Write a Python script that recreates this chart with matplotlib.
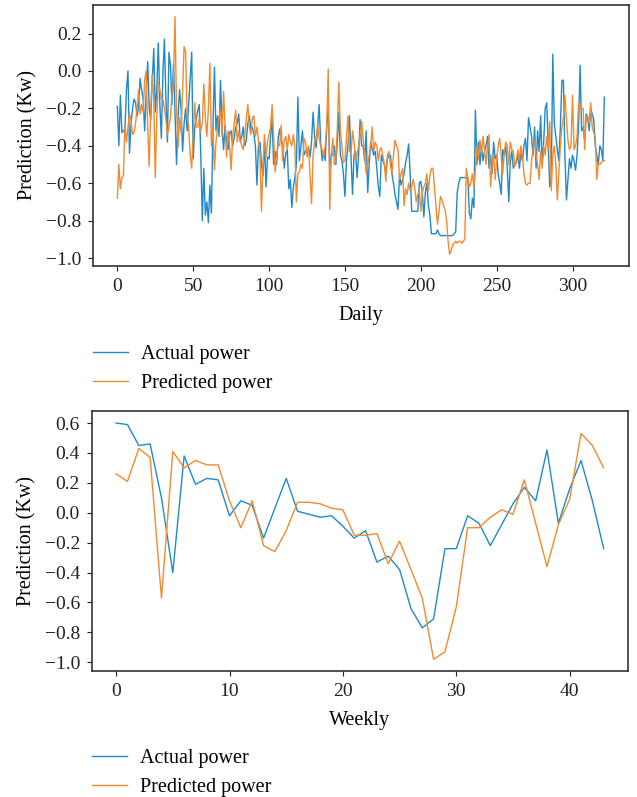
import numpy as np
import matplotlib
matplotlib.use('Agg')
import matplotlib.pyplot as plt

plt.rcParams['font.family'] = ['Liberation Serif', 'DejaVu Serif']
plt.rcParams['font.size'] = 14.5

# daily series
daily_actual = [
    -0.19, -0.40, -0.13, -0.33, -0.32, -0.31, -0.10, 0.00, -0.44, -0.29,
    -0.20, -0.15, -0.17, -0.24, -0.19, -0.04, -0.10, -0.15, -0.32, -0.12,
    0.05, -0.20, -0.26, -0.05, 0.12, -0.22, -0.10, 0.15, -0.18, -0.36,
    -0.02, 0.17, -0.15, -0.38, 0.10, 0.03, -0.18, 0.04, -0.22, -0.50,
    -0.25, -0.10, -0.20, -0.43, -0.28, -0.20, -0.32, -0.18, -0.05, 0.10,
    -0.47, -0.30, -0.26, -0.21, -0.18, -0.45, -0.80, -0.52, -0.77, -0.70,
    -0.81, -0.61, -0.76, -0.30, 0.02, -0.32, -0.24, -0.35, -0.05, -0.30,
    -0.42, -0.29, -0.38, -0.42, -0.33, -0.32, -0.40, -0.36, -0.30, -0.28,
    -0.23, -0.38, -0.35, -0.30, -0.40, -0.37, -0.28, -0.24, -0.31, -0.30,
    -0.34, -0.40, -0.61, -0.40, -0.38, -0.50, -0.56, -0.38, -0.62, -0.46,
    -0.47, -0.35, -0.25, -0.50, -0.43, -0.50, -0.36, -0.31, -0.37, -0.40,
    -0.52, -0.44, -0.42, -0.63, -0.58, -0.73, -0.62, -0.57, -0.50, -0.14,
    -0.48, -0.40, -0.32, -0.45, -0.43, -0.42, -0.41, -0.46, -0.38, -0.22,
    -0.35, -0.41, -0.30, -0.18, -0.38, -0.48, -0.43, -0.48, -0.30, -0.19,
    -0.52, -0.45, -0.45, -0.40, -0.50, -0.38, -0.22, -0.45, -0.48, -0.55,
    -0.67, -0.48, -0.40, -0.24, -0.46, -0.66, -0.45, -0.43, -0.57, -0.45,
    -0.26, -0.40, -0.40, -0.48, -0.32, -0.65, -0.50, -0.38, -0.42, -0.45,
    -0.43, -0.52, -0.62, -0.67, -0.45, -0.48, -0.50, -0.54, -0.47, -0.45,
    -0.45, -0.55, -0.60, -0.66, -0.70, -0.74, -0.55, -0.61, -0.58, -0.55,
    -0.49, -0.45, -0.39, -0.55, -0.75, -0.75, -0.75, -0.75, -0.75, -0.60,
    -0.59, -0.65, -0.78, -0.65, -0.60, -0.72, -0.77, -0.87, -0.87, -0.87,
    -0.87, -0.85, -0.87, -0.88, -0.88, -0.88, -0.88, -0.88, -0.88, -0.88,
    -0.88, -0.88, -0.87, -0.86, -0.65, -0.60, -0.57, -0.57, -0.57, -0.57,
    -0.57, -0.57, -0.76, -0.79, -0.68, -0.73, -0.21, -0.50, -0.38, -0.50,
    -0.40, -0.48, -0.43, -0.40, -0.35, -0.52, -0.45, -0.55, -0.38, -0.47,
    -0.45, -0.55, -0.60, -0.66, -0.42, -0.45, -0.40, -0.52, -0.70, -0.48,
    -0.43, -0.52, -0.50, -0.49, -0.45, -0.52, -0.44, -0.48, -0.40, -0.36,
    -0.48, -0.25, -0.30, -0.35, -0.45, -0.30, -0.52, -0.32, -0.43, -0.24,
    -0.50, -0.38, -0.20, -0.17, -0.40, -0.62, -0.58, 0.09, -0.28, -0.35,
    -0.42, -0.48, -0.30, -0.05, -0.05, -0.45, -0.69, -0.58, -0.47, -0.52,
    -0.45, -0.48, -0.53, -0.45, -0.30, 0.03, -0.32, -0.30, -0.37, -0.23,
    -0.25, -0.32, -0.20, -0.23, -0.26, -0.40, -0.45, -0.50, -0.40, -0.42,
    -0.48, -0.14,
]
daily_pred = [
    -0.68, -0.50, -0.63, -0.57, -0.56, -0.29, -0.38, -0.30, -0.23, -0.26,
    -0.34, -0.33, -0.28, -0.20, -0.10, -0.23, -0.18, -0.22, -0.05, 0.00,
    -0.30, -0.51, -0.20, -0.02, -0.15, -0.57, -0.25, -0.06, -0.10, -0.15,
    -0.15, -0.20, -0.26, -0.34, -0.30, -0.25, -0.12, -0.05, 0.29, -0.20,
    -0.41, -0.25, -0.33, -0.10, 0.13, 0.10, -0.24, -0.30, -0.45, -0.52,
    -0.35, -0.17, -0.30, -0.30, -0.25, -0.32, -0.28, -0.07, -0.25, -0.35,
    -0.20, 0.04, -0.40, -0.30, -0.53, -0.38, -0.30, -0.25, -0.21, -0.35,
    -0.11, -0.30, -0.46, -0.32, -0.40, -0.53, -0.35, -0.28, -0.21, -0.38,
    -0.32, -0.37, -0.40, -0.42, -0.35, -0.25, -0.18, -0.30, -0.34, -0.25,
    -0.24, -0.35, -0.30, -0.37, -0.45, -0.75, -0.50, -0.34, -0.46, -0.38,
    -0.34, -0.30, -0.18, -0.35, -0.54, -0.45, -0.39, -0.40, -0.29, -0.48,
    -0.37, -0.35, -0.42, -0.34, -0.38, -0.40, -0.34, -0.40, -0.70, -0.55,
    -0.54, -0.50, -0.52, -0.36, -0.38, -0.46, -0.40, -0.55, -0.71, -0.45,
    -0.38, -0.37, -0.29, -0.36, -0.40, -0.42, -0.46, -0.40, -0.30, 0.01,
    -0.74, -0.45, -0.36, -0.50, -0.48, -0.30, -0.06, -0.32, -0.40, -0.49,
    -0.48, -0.36, -0.24, -0.43, -0.44, -0.32, -0.38, -0.48, -0.45, -0.40,
    -0.34, -0.27, -0.36, -0.45, -0.55, -0.50, -0.45, -0.40, -0.30, -0.43,
    -0.38, -0.40, -0.48, -0.42, -0.41, -0.45, -0.50, -0.59, -0.45, -0.43,
    -0.50, -0.55, -0.45, -0.37, -0.40, -0.42, -0.58, -0.55, -0.52, -0.72,
    -0.63, -0.66, -0.60, -0.64, -0.62, -0.58, -0.62, -0.70, -0.66, -0.64,
    -0.75, -0.65, -0.62, -0.60, -0.55, -0.64, -0.56, -0.52, -0.52, -0.62,
    -0.72, -0.82, -0.75, -0.67, -0.69, -0.72, -0.74, -0.80, -0.91, -0.98,
    -0.96, -0.93, -0.92, -0.91, -0.92, -0.91, -0.91, -0.92, -0.91, -0.90,
    -0.52, -0.57, -0.62, -0.60, -0.55, -0.62, -0.53, -0.40, -0.47, -0.37,
    -0.44, -0.35, -0.42, -0.50, -0.40, -0.34, -0.62, -0.50, -0.45, -0.58,
    -0.47, -0.40, -0.36, -0.45, -0.55, -0.44, -0.38, -0.40, -0.50, -0.38,
    -0.42, -0.43, -0.51, -0.48, -0.42, -0.48, -0.40, -0.45, -0.55, -0.60,
    -0.61, -0.60, -0.60, -0.48, -0.42, -0.37, -0.45, -0.50, -0.58, -0.43,
    -0.52, -0.40, -0.45, -0.35, -0.42, -0.27, -0.64, -0.45, -0.40, -0.50,
    -0.69, -0.55, -0.40, -0.30, -0.25, -0.13, -0.26, -0.37, -0.42, -0.40,
    -0.13, -0.42, -0.40, -0.35, -0.17, -0.18, -0.20, -0.20, -0.42, -0.25,
    -0.24, -0.28, -0.17, -0.30, -0.33, -0.35, -0.58, -0.50, -0.50, -0.49,
    -0.48, -0.48,
]

# weekly series
weekly_actual = [
    0.60, 0.59, 0.45, 0.46, 0.10, -0.40, 0.38, 0.19, 0.23, 0.22,
    -0.02, 0.08, 0.05, -0.17, 0.03, 0.23, 0.01, -0.01, -0.03, -0.02,
    -0.09, -0.17, -0.12, -0.33, -0.29, -0.38, -0.64, -0.77, -0.71, -0.24,
    -0.24, -0.02, -0.07, -0.22, -0.08, 0.06, 0.17, 0.08, 0.42, -0.07,
    0.16, 0.35, 0.08, -0.24,
]
weekly_pred = [
    0.26, 0.21, 0.43, 0.37, -0.57, 0.41, 0.30, 0.35, 0.32, 0.32,
    0.08, -0.10, 0.08, -0.22, -0.26, -0.12, 0.07, 0.07, 0.06, 0.03,
    0.02, -0.15, -0.15, -0.14, -0.34, -0.19, -0.38, -0.57, -0.98, -0.93,
    -0.63, -0.10, -0.10, -0.03, 0.02, -0.01, 0.22, -0.07, -0.36, -0.08,
    0.09, 0.53, 0.45, 0.30,
]

blue = '#1f8ac9'
orange = '#f28a30'

fig = plt.figure(figsize=(6.37, 7.97), dpi=100)
ax1 = fig.add_axes([0.146, 0.666, 0.841, 0.328])
ax2 = fig.add_axes([0.144, 0.158, 0.842, 0.326])

ax1.plot(np.arange(len(daily_actual)), daily_actual, color=blue, lw=1.0, label='Actual power')
ax1.plot(np.arange(len(daily_pred)), daily_pred, color=orange, lw=1.0, label='Predicted power')
ax1.set_xlabel('Daily', labelpad=8)
ax1.set_ylabel('Prediction (Kw)', labelpad=6)
ax1.set_yticks([0.2, 0.0, -0.2, -0.4, -0.6, -0.8, -1.0])

ax2.plot(np.arange(len(weekly_actual)), weekly_actual, color=blue, lw=1.0, label='Actual power')
ax2.plot(np.arange(len(weekly_pred)), weekly_pred, color=orange, lw=1.0, label='Predicted power')
ax2.set_xlabel('Weekly', labelpad=8)
ax2.set_ylabel('Prediction (Kw)', labelpad=6)
ax2.set_yticks([0.6, 0.4, 0.2, 0.0, -0.2, -0.4, -0.6, -0.8, -1.0])

for ax in (ax1, ax2):
    for s in ax.spines.values():
        s.set_color('#333333')
        s.set_linewidth(1.2)
    ax.tick_params(colors='#222222', labelsize=14, pad=5)
    ax.legend(loc='upper left', bbox_to_anchor=(0.0, -0.30), frameon=False,
              handlelength=1.75, handletextpad=0.65, labelspacing=0.5,
              borderaxespad=0, borderpad=0, fontsize=14.5)

fig.savefig('out.png', dpi=100)
